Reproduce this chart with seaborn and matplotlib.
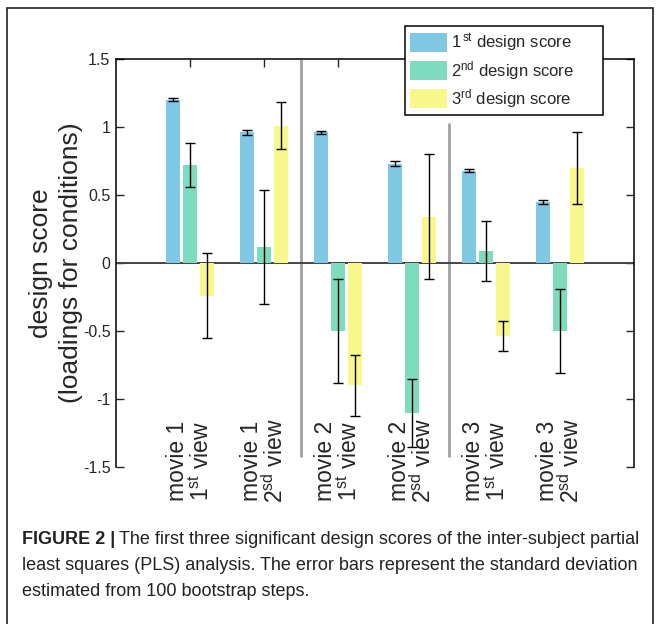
import matplotlib
matplotlib.use("Agg")
import matplotlib.pyplot as plt
import matplotlib.patches as mpatches
from matplotlib.ticker import FuncFormatter
import seaborn as sns
import pandas as pd

# chart values
conditions = ["m1v1", "m1v2", "m2v1", "m2v2", "m3v1", "m3v2"]
cond_labels = ["movie 1\n1$^{\\mathrm{st}}$ view", "movie 1\n2$^{\\mathrm{sd}}$ view",
               "movie 2\n1$^{\\mathrm{st}}$ view", "movie 2\n2$^{\\mathrm{sd}}$ view",
               "movie 3\n1$^{\\mathrm{st}}$ view", "movie 3\n2$^{\\mathrm{sd}}$ view"]
score_names = ["1$^{\\,\\mathrm{st}}$ design score", "2$^{\\mathrm{nd}}$ design score",
               "3$^{\\mathrm{rd}}$ design score"]
score1 = [1.20, 0.96, 0.96, 0.73, 0.68, 0.45]
score2 = [0.72, 0.12, -0.50, -1.10, 0.09, -0.50]
score3 = [-0.24, 1.01, -0.90, 0.34, -0.54, 0.70]
err1 = [0.012, 0.015, 0.012, 0.02, 0.01, 0.015]
err2 = [0.16, 0.42, 0.38, 0.25, 0.22, 0.31]
err3 = [0.31, 0.175, 0.225, 0.46, 0.11, 0.265]
colors = ["#7FC8E4", "#7DDBBE", "#F8F78C"]

sns.set_theme(style="white")
plt.rcParams["font.family"] = ["Liberation Sans", "DejaVu Sans"]
plt.rcParams["mathtext.fontset"] = "custom"
plt.rcParams["mathtext.rm"] = "Liberation Sans"
plt.rcParams["mathtext.it"] = "Liberation Sans:italic"

rows = []
for vals, name in zip([score1, score2, score3], score_names):
    for c, v in zip(conditions, vals):
        rows.append({"condition": c, "score": name, "value": v})
df = pd.DataFrame(rows)

fig = plt.figure(figsize=(6.59, 6.24), dpi=100)
ax = fig.add_axes([0.176, 0.2516, 0.786, 0.6538])

sns.barplot(data=df, x="condition", y="value", hue="score", order=conditions,
            hue_order=score_names, palette=colors, width=0.69, gap=0.17,
            errorbar=None, saturation=1, linewidth=0, ax=ax, zorder=3)

# error bars at the centres of the drawn bars
for cont, vals, errs in zip(ax.containers, [score1, score2, score3], [err1, err2, err3]):
    xs = [b.get_x() + b.get_width() / 2 for b in cont]
    ax.errorbar(xs, vals, yerr=errs, fmt="none", ecolor="black", elinewidth=1,
                capsize=3.8, capthick=1, zorder=4)

ax.axhline(0, color="#444444", lw=1.4, zorder=2)
ax.vlines([1.5], -1.43, 1.5, color="#A0A0A0", lw=2, zorder=1)
ax.vlines([3.5], -1.43, 1.03, color="#A0A0A0", lw=2, zorder=1)

ax.set_xlim(-1, 6)
ax.set_ylim(-1.5, 1.5)
ax.set_yticks([-1.5, -1, -0.5, 0, 0.5, 1, 1.5])
ax.yaxis.set_major_formatter(FuncFormatter(lambda v, p: "%g" % v))
ax.xaxis.tick_top()
ax.set_xticks(range(len(conditions)))
ax.tick_params(axis="x", direction="in", length=6, width=1, labeltop=False, labelbottom=False)
ax.tick_params(axis="y", direction="in", length=6, width=1, left=True, right=True,
               labelsize=11.5, pad=4)
for s in ["left", "right", "top"]:
    ax.spines[s].set_color("black")
    ax.spines[s].set_linewidth(1.1)
ax.spines["bottom"].set_visible(False)
ax.set_xlabel("")
ax.set_ylabel("design score\n(loadings for conditions)", fontsize=19, linespacing=1.3)
ax.yaxis.set_label_coords(-0.064, 0.5)

for i, lab in enumerate(cond_labels):
    ax.text(i, -1.455, lab, rotation=90, ha="center", va="center", fontsize=16.5,
            multialignment="center", linespacing=1.0, zorder=5)

ax.get_legend().remove()
handles = [mpatches.Patch(facecolor=c, edgecolor="none") for c in colors]
leg = fig.legend(handles, [n + "      " for n in score_names], loc="upper right",
                 bbox_to_anchor=(0.915, 0.958),
                 bbox_transform=fig.transFigure, borderaxespad=0, fontsize=12,
                 frameon=True, fancybox=False, framealpha=1, edgecolor="black",
                 handlelength=2.2, handleheight=1.3, labelspacing=0.3, borderpad=0.3,
                 handletextpad=0.25)
leg.get_frame().set_linewidth(1.1)

# outer frame
fig.patches.append(mpatches.Rectangle((7 / 659, -0.02), 646 / 659, 1 - 8 / 624 + 0.02,
                                      transform=fig.transFigure, fill=False,
                                      edgecolor="#222222", lw=1.2))

# caption
cap_font = ["Liberation Sans Narrow", "Liberation Sans", "DejaVu Sans"]
bold = fig.text(22 / 659, 1 - 540 / 624, "FIGURE 2 |", fontsize=13, fontweight="bold",
                family=cap_font, va="center", color="#222222")
fig.canvas.draw()
bb = bold.get_window_extent(fig.canvas.get_renderer())
fig.text(bb.x1 / fig.bbox.width + 0.005, 1 - 540 / 624,
         "The first three significant design scores of the inter-subject partial",
         fontsize=13, family=cap_font, va="center", color="#222222")
fig.text(22 / 659, 1 - 566 / 624,
         "least squares (PLS) analysis. The error bars represent the standard deviation",
         fontsize=13, family=cap_font, va="center", color="#222222")
fig.text(22 / 659, 1 - 592 / 624, "estimated from 100 bootstrap steps.",
         fontsize=13, family=cap_font, va="center", color="#222222")

fig.savefig("out.png", dpi=100)
